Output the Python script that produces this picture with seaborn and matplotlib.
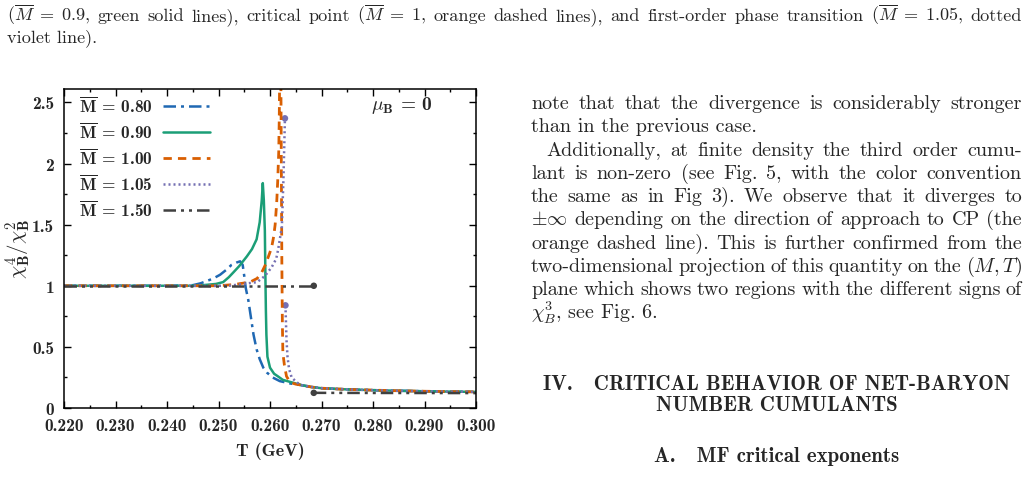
import seaborn as sns
import matplotlib.pyplot as plt

# chi4/chi2 vs T (GeV)
T_080 = [0.220, 0.240, 0.245, 0.2465, 0.2478, 0.249, 0.2503, 0.2515, 0.2525, 0.2535, 0.2542,
         0.2547, 0.2550, 0.2553, 0.2558, 0.2563, 0.2568, 0.2574, 0.2580, 0.2587, 0.2594,
         0.2605, 0.2619, 0.264]
r_080 = [1.000, 1.000, 1.005, 1.02, 1.04, 1.06, 1.09, 1.13, 1.17, 1.19, 1.20,
         1.17, 1.08, 0.98, 0.88, 0.74, 0.60, 0.48, 0.40, 0.33, 0.29,
         0.25, 0.22, 0.20]

T_090 = [0.220, 0.245, 0.247, 0.2495, 0.2509, 0.252, 0.2529, 0.2540, 0.2555, 0.2565, 0.2574,
         0.2580, 0.2584, 0.2586, 0.2588, 0.2590, 0.2591, 0.2592, 0.2593, 0.2595, 0.2600,
         0.2608, 0.2615, 0.2625, 0.2642]
r_090 = [1.000, 1.000, 1.005, 1.015, 1.03, 1.07, 1.11, 1.16, 1.24, 1.30, 1.38,
         1.52, 1.70, 1.84, 1.70, 1.45, 1.10, 0.80, 0.60, 0.42, 0.33,
         0.28, 0.26, 0.23, 0.21]

T_100 = [0.220, 0.250, 0.2530, 0.2561, 0.2575, 0.2584, 0.2592, 0.2597, 0.2603, 0.2607, 0.2610,
         0.2613, 0.2615, 0.2617, 0.2618, 0.2619, 0.2620, 0.2621, 0.2622, 0.2623, 0.2624,
         0.2625, 0.2628, 0.2632, 0.2639, 0.2650]
r_100 = [1.000, 1.000, 1.01, 1.03, 1.06, 1.11, 1.18, 1.24, 1.31, 1.40, 1.50,
         1.68, 1.86, 2.10, 2.38, 2.80, 3.00, 2.80, 2.00, 1.20, 0.70,
         0.45, 0.35, 0.26, 0.21, 0.195]

# first-order transition: two branches
T_105_lo = [0.220, 0.252, 0.2575, 0.2590, 0.2603, 0.2612, 0.2616, 0.2619, 0.2623, 0.2626, 0.2629]
r_105_lo = [1.000, 1.000, 1.03, 1.08, 1.15, 1.22, 1.30, 1.38, 1.48, 1.86, 2.37]
T_105_hi = [0.2630, 0.2631, 0.2632, 0.2634, 0.2637, 0.2642, 0.2652]
r_105_hi = [0.84, 0.70, 0.56, 0.42, 0.32, 0.25, 0.21]

T_150_lo = [0.220, 0.2685]
r_150_lo = [1.000, 1.000]
T_150_hi = [0.2685, 0.280, 0.300]
r_150_hi = [0.124, 0.123, 0.122]

# common high-T tail
tail_T = [0.266, 0.268, 0.270, 0.275, 0.280, 0.285, 0.290, 0.295, 0.300]
tail_r = [0.188, 0.172, 0.162, 0.152, 0.146, 0.141, 0.137, 0.134, 0.132]

labels = ['0.80', '0.90', '1.00', '1.05', '1.50']
colors = ['#1f68b3', '#1b9e77', '#d95f02', '#7570b3', '#404040']

x_ticks = [0.22, 0.23, 0.24, 0.25, 0.26, 0.27, 0.28, 0.29, 0.30]
x_ticklabels = ['0.220', '0.230', '0.240', '0.250', '0.260', '0.270', '0.280', '0.290', '0.300']
y_ticks = [0, 0.5, 1, 1.5, 2, 2.5]
y_ticklabels = ['0', '0.5', '1', '1.5', '2', '2.5']

sns.set_style('ticks')
plt.rcParams['font.family'] = ['cmr10']
plt.rcParams['mathtext.fontset'] = 'cm'
plt.rcParams['axes.formatter.use_mathtext'] = True

W, H = 1029, 489
fig = plt.figure(figsize=(W / 100, H / 100), dpi=100)
ax = fig.add_axes([64 / W, 1 - 409 / H, 412 / W, 319 / H])

def lab(m):
    return r'$\overline{\mathbf{M}}$ = ' + m

lw = 1.8
sns.lineplot(x=T_080 + tail_T, y=r_080 + tail_r, sort=False, estimator=None, ax=ax,
             color=colors[0], lw=lw, linestyle=(0, (5, 2, 1.2, 2)), label=lab(labels[0]))
sns.lineplot(x=T_090 + tail_T, y=r_090 + tail_r, sort=False, estimator=None, ax=ax,
             color=colors[1], lw=lw, linestyle='-', label=lab(labels[1]))
sns.lineplot(x=T_100 + tail_T, y=r_100 + tail_r, sort=False, estimator=None, ax=ax,
             color=colors[2], lw=lw + 0.2, linestyle=(0, (3.0, 2.2)), label=lab(labels[2]))
sns.lineplot(x=T_105_lo, y=r_105_lo, sort=False, estimator=None, ax=ax,
             color=colors[3], lw=lw, linestyle=(0, (0.8, 1.2)), label=lab(labels[3]))
sns.lineplot(x=T_105_hi + tail_T, y=r_105_hi + tail_r, sort=False, estimator=None, ax=ax,
             color=colors[3], lw=lw, linestyle=(0, (0.8, 1.2)))
sns.scatterplot(x=[T_105_lo[-1], T_105_hi[0]], y=[r_105_lo[-1], r_105_hi[0]], ax=ax,
                color=colors[3], s=22, edgecolor='none')
sns.lineplot(x=T_150_lo, y=r_150_lo, sort=False, estimator=None, ax=ax,
             color=colors[4], lw=lw, linestyle=(0, (5, 2, 1.2, 2, 1.2, 2)), label=lab(labels[4]))
sns.lineplot(x=T_150_hi, y=r_150_hi, sort=False, estimator=None, ax=ax,
             color=colors[4], lw=lw, linestyle=(0, (5, 2, 1.2, 2, 1.2, 2)))
sns.scatterplot(x=[T_150_lo[-1], T_150_hi[0]], y=[r_150_lo[-1], r_150_hi[0]], ax=ax,
                color=colors[4], s=22, edgecolor='none', zorder=5)

ax.set_xlim(0.22, 0.30)
ax.set_ylim(0, 2.61)
ax.set_xticks(x_ticks, x_ticklabels, fontfamily='cmb10', fontsize=12.5)
ax.set_yticks(y_ticks, y_ticklabels, fontfamily='cmb10', fontsize=12.5)
ax.set_xticks([0.225, 0.235, 0.245, 0.255, 0.265, 0.275, 0.285, 0.295], minor=True)
ax.set_yticks([0.25, 0.75, 1.25, 1.75, 2.25], minor=True)
ax.tick_params(which='both', direction='in', top=True, right=True, width=1.0, color='black')
ax.tick_params(which='major', length=5, pad=7)
ax.tick_params(which='minor', length=2.5)
for s in ax.spines.values():
    s.set_linewidth(1.1)
    s.set_color('black')

ax.set_xlabel('T (GeV)', fontsize=13, fontfamily='cmb10')
ax.xaxis.set_label_coords(0.5, (409 - 451) / 319)
ax.xaxis.label.set_va('center')
ax.set_ylabel(r'$\chi^4_\mathbf{B}/\chi^2_\mathbf{B}$', fontsize=15)
ax.yaxis.set_label_coords((18 - 64) / 412, 0.5)
ax.yaxis.label.set_va('center')

ax.text(0.82, 0.95, r'$\mu_\mathbf{B}$ = 0', transform=ax.transAxes, fontfamily='cmb10',
        ha='center', va='center', fontsize=14)

h, l = ax.get_legend_handles_labels()
ax.legend(h, l, loc='upper left', bbox_to_anchor=(0.02, 1.003), frameon=False,
          markerfirst=False, prop={'family': 'cmb10', 'size': 12.5}, handlelength=2.7,
          handletextpad=0.6, labelspacing=0.33, borderaxespad=0)

# surrounding page text
renderer = fig.canvas.get_renderer()

def put(x, y, s, **kw):
    return fig.text(x / W, 1 - y / H, s, va='baseline', **kw)

def justify(line, x0, x1, y, size=14.5):
    words = line.split(' ')
    ts = [put(0, y, w, fontsize=size) for w in words]
    widths = [t.get_window_extent(renderer).width for t in ts]
    gap = (x1 - x0 - sum(widths)) / (len(words) - 1)
    x = x0
    for t, w in zip(ts, widths):
        t.set_x(x / W)
        x += w + gap

cap = 13.1
justify(r'($\overline{M}\;=\;0.9$, green solid lines), critical point ($\overline{M}\;=\;1$, orange dashed lines), '
        r'and first-order phase transition ($\overline{M}\;=\;1.05$, dotted', 7, 1022, 21, size=cap)
put(7, 42, 'violet line).', fontsize=cap)

body = [
    ('j', 531, r'note that that the divergence is considerably stronger'),
    ('l', 531, r'than in the previous case.'),
    ('j', 546, r'Additionally, at finite density the third order cumu-'),
    ('j', 531, r'lant is non-zero (see Fig. 5, with the color convention'),
    ('j', 531, r'the same as in Fig 3). We observe that it diverges to'),
    ('j', 531, r'$\pm\infty$ depending on the direction of approach to CP (the'),
    ('j', 531, r'orange dashed line). This is further confirmed from the'),
    ('j', 531, r'two-dimensional projection of this quantity on the $(M,T)$'),
    ('j', 531, r'plane which shows two regions with the different signs of'),
    ('l', 531, r'$\chi_B^3$, see Fig. 6.'),
]
for i, (mode, x0, s) in enumerate(body):
    y = 109 + i * 23.3
    if mode == 'j':
        justify(s, x0, 1022, y)
    else:
        put(x0, y, s, fontsize=14.5)

put(776.5, 390, 'IV.   CRITICAL BEHAVIOR OF NET-BARYON', fontsize=15, fontfamily='cmb10', ha='center')
put(776.5, 411, 'NUMBER CUMULANTS', fontsize=15, fontfamily='cmb10', ha='center')
put(776.5, 462, 'A.   MF critical exponents', fontsize=15, fontfamily='cmb10', ha='center')

fig.savefig('out.png', dpi=100)
